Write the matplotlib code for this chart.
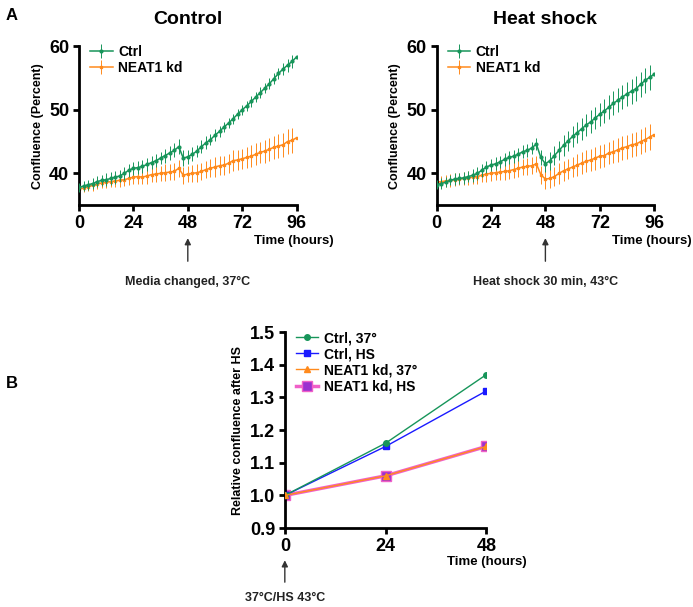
import numpy as np
import matplotlib
matplotlib.use("Agg")
import matplotlib.pyplot as plt

plt.rcParams['font.family'] = ['Liberation Sans', 'DejaVu Sans']
plt.rcParams['font.weight'] = 'bold'

# Zeitpunkte (Stunden) fuer Panel A
time_a = list(range(0, 97, 2))

# Panel A, Kontrolle
ctrl_ctrl = [37.8, 38.0, 38.2, 38.4, 38.7, 38.9, 39.0, 39.2, 39.4, 39.6, 40.0, 40.5, 40.8,
             40.9, 41.1, 41.4, 41.7, 42.0, 42.4, 42.8, 43.2, 43.6, 44.2, 42.4, 42.6, 43.0,
             43.5, 44.2, 44.8, 45.3, 46.0, 46.6, 47.3, 47.9, 48.6, 49.3, 50.0, 50.6, 51.3,
             52.0, 52.7, 53.4, 54.1, 54.9, 55.7, 56.4, 57.0, 57.6, 58.3]
ctrl_ctrl_err = [0.7, 0.8, 0.8, 0.9, 0.9, 0.9, 1.0, 1.0, 1.0, 1.0, 1.0, 1.0, 1.0,
                 1.0, 1.0, 1.0, 1.0, 1.0, 1.0, 1.1, 1.1, 1.1, 1.2, 1.2, 1.1, 1.1,
                 1.0, 1.0, 1.0, 0.9, 0.9, 0.9, 0.8, 0.8, 0.8, 0.8, 0.8, 0.8, 0.8,
                 0.8, 0.8, 0.8, 0.9, 0.9, 0.9, 1.0, 1.0, 1.0, 1.0]
ctrl_kd = [37.5, 37.7, 37.9, 38.1, 38.3, 38.5, 38.6, 38.7, 38.8, 38.9, 39.0, 39.2, 39.4,
           39.5, 39.4, 39.6, 39.8, 39.9, 40.0, 40.1, 40.2, 40.3, 40.8, 39.7, 39.9, 40.0,
           40.1, 40.3, 40.6, 40.8, 41.0, 41.2, 41.3, 41.6, 42.0, 42.1, 42.3, 42.5, 42.7,
           43.0, 43.3, 43.5, 43.8, 44.1, 44.3, 44.5, 45.0, 45.2, 45.6]
ctrl_kd_err = [0.6, 0.7, 0.7, 0.8, 0.8, 0.8, 0.9, 0.9, 0.9, 1.0, 1.0, 1.0, 1.1,
               1.1, 1.1, 1.2, 1.2, 1.2, 1.2, 1.3, 1.3, 1.3, 1.3, 1.3, 1.3, 1.3,
               1.4, 1.4, 1.4, 1.4, 1.5, 1.5, 1.5, 1.5, 1.6, 1.6, 1.6, 1.6, 1.7,
               1.7, 1.7, 1.8, 1.8, 1.8, 1.9, 1.9, 1.9, 2.0, 2.0]

# Panel A, Hitzeschock
hs_ctrl = [38.2, 38.4, 38.6, 38.9, 39.1, 39.2, 39.3, 39.5, 39.7, 40.0, 40.5, 41.0, 41.3,
           41.5, 41.8, 42.2, 42.5, 42.7, 43.0, 43.4, 43.6, 44.0, 44.6, 42.5, 41.5, 42.0,
           42.8, 43.6, 44.4, 45.1, 45.8, 46.4, 47.0, 47.6, 48.1, 48.7, 49.3, 49.8, 50.4,
           51.0, 51.5, 52.0, 52.5, 52.9, 53.3, 54.0, 54.6, 55.1, 55.6]
hs_ctrl_err = [0.7, 0.8, 0.8, 0.8, 0.9, 0.9, 0.9, 0.9, 1.0, 1.0, 1.0, 1.0, 1.0,
               1.0, 1.0, 1.0, 1.0, 1.0, 1.0, 1.0, 1.0, 1.0, 1.0, 1.2, 1.3, 1.4,
               1.5, 1.5, 1.6, 1.6, 1.7, 1.7, 1.7, 1.8, 1.8, 1.8, 1.8, 1.9, 1.9,
               1.9, 1.9, 1.9, 1.9, 2.0, 2.0, 2.0, 2.0, 2.0, 2.0]
hs_kd = [38.6, 38.7, 38.8, 38.9, 39.0, 39.1, 39.2, 39.3, 39.4, 39.5, 39.7, 39.9, 40.0,
         40.1, 40.2, 40.3, 40.4, 40.6, 40.8, 41.0, 41.1, 41.2, 41.5, 39.8, 39.1, 39.2,
         39.5, 40.0, 40.4, 40.7, 41.0, 41.3, 41.6, 41.9, 42.1, 42.4, 42.7, 42.8, 43.2,
         43.4, 43.7, 44.0, 44.2, 44.5, 44.6, 45.0, 45.3, 45.7, 46.1]
hs_kd_err = [0.8, 0.9, 0.9, 1.0, 1.0, 1.0, 1.0, 1.1, 1.1, 1.1, 1.1, 1.2, 1.2,
             1.2, 1.2, 1.3, 1.3, 1.3, 1.3, 1.3, 1.3, 1.3, 1.3, 1.4, 1.5, 1.5,
             1.5, 1.6, 1.6, 1.6, 1.6, 1.7, 1.7, 1.7, 1.7, 1.8, 1.8, 1.8, 1.8,
             1.8, 1.9, 1.9, 1.9, 1.9, 1.9, 2.0, 2.0, 2.0, 2.0]

# Panel B
time_b = [0, 24, 48]
rel_ctrl_37 = [1.0, 1.16, 1.37]
rel_ctrl_hs = [1.0, 1.15, 1.32]
rel_kd_37 = [1.0, 1.06, 1.15]
rel_kd_hs = [1.0, 1.06, 1.15]

GREEN = "#17955a"
ORANGE = "#ff8a1c"
BLUE = "#1a1aff"
PURPLE = "#9b30d0"
PINK = "#f060c8"


def style_axes(ax):
    for s in ["top", "right"]:
        ax.spines[s].set_visible(False)
    for s in ["left", "bottom"]:
        ax.spines[s].set_linewidth(2)
    ax.tick_params(width=2, length=4, labelsize=13, pad=3)
    for lab in ax.get_xticklabels() + ax.get_yticklabels():
        lab.set_fontweight("bold")


fig = plt.figure(figsize=(6.93, 6.07), dpi=100)

panels = [
    (0.114, "Control", ctrl_ctrl, ctrl_ctrl_err, ctrl_kd, ctrl_kd_err, "Media changed, 37°C"),
    (0.630, "Heat shock", hs_ctrl, hs_ctrl_err, hs_kd, hs_kd_err, "Heat shock 30 min, 43°C"),
]
for left, title, g, ge, o, oe, note in panels:
    ax = fig.add_axes([left, 0.662, 0.314, 0.262])
    ax.errorbar(time_a, g, yerr=ge, color=GREEN, marker="o", ms=2, lw=1.1,
                elinewidth=0.7, capsize=0, label="Ctrl", zorder=3)
    ax.errorbar(time_a, o, yerr=oe, color=ORANGE, marker="s", ms=2, lw=1.1,
                elinewidth=0.7, capsize=0, label="NEAT1 kd", zorder=2)
    ax.set_xlim(0, 96)
    ax.set_ylim(35, 60)
    ax.set_xticks([0, 24, 48, 72, 96])
    ax.set_yticks([40, 50, 60])
    ax.set_ylabel("Confluence (Percent)", fontsize=9, fontweight="bold")
    style_axes(ax)
    leg = ax.legend(loc="upper left", frameon=False, fontsize=10, handlelength=1.6,
                    borderaxespad=0.1, labelspacing=0.15, handletextpad=0.4,
                    bbox_to_anchor=(0.02, 1.05))
    for t in leg.get_texts():
        t.set_fontweight("bold")
    ax.set_title(title, fontsize=14, fontweight="bold", pad=16)
    ax.text(1.17, -0.19, "Time (hours)", transform=ax.transAxes, ha="right",
            va="top", fontsize=9.5, fontweight="bold")
    ax.annotate("", xy=(48, -0.19), xytext=(48, -0.37),
                xycoords=("data", "axes fraction"), textcoords=("data", "axes fraction"),
                arrowprops=dict(arrowstyle="-|>", color="#333333", lw=1, mutation_scale=9))
    ax.text(48, -0.48, note, transform=ax.get_xaxis_transform(), ha="center",
            va="center", fontsize=9, fontweight="bold", color="#222222")

axb = fig.add_axes([0.411, 0.130, 0.291, 0.323])
axb.plot(time_b, rel_ctrl_37, color=GREEN, marker="o", ms=4, lw=1, label="Ctrl, 37°", zorder=4)
axb.plot(time_b, rel_ctrl_hs, color=BLUE, marker="s", ms=5, lw=1, label="Ctrl, HS", zorder=3)
axb.plot(time_b, rel_kd_37, color=ORANGE, marker="^", ms=5, lw=1, label="NEAT1 kd, 37°", zorder=5)
axb.plot(time_b, rel_kd_hs, color=PINK, marker="s", ms=7, mfc=PURPLE, mec=PINK, mew=1,
         lw=2.5, label="NEAT1 kd, HS", zorder=2)
axb.set_xlim(0, 48)
axb.set_ylim(0.9, 1.5)
axb.set_xticks(time_b)
axb.set_yticks([0.9, 1.0, 1.1, 1.2, 1.3, 1.4, 1.5])
axb.set_ylabel("Relative confluence after HS", fontsize=9, fontweight="bold")
style_axes(axb)
legb = axb.legend(loc="upper left", frameon=False, fontsize=10, handlelength=1.6,
                  borderaxespad=0.1, labelspacing=0.15, handletextpad=0.4,
                  bbox_to_anchor=(0.02, 1.04))
for t in legb.get_texts():
    t.set_fontweight("bold")
axb.text(1.2, -0.14, "Time (hours)", transform=axb.transAxes, ha="right",
         va="top", fontsize=9.5, fontweight="bold")
axb.annotate("", xy=(0, -0.15), xytext=(0, -0.29),
             xycoords=("data", "axes fraction"), textcoords=("data", "axes fraction"),
             arrowprops=dict(arrowstyle="-|>", color="#333333", lw=1, mutation_scale=9))
axb.text(0, -0.357, "37°C/HS 43°C", transform=axb.get_xaxis_transform(), ha="center",
         va="center", fontsize=9, fontweight="bold", color="#222222")

fig.text(0.008, 0.975, "A", fontsize=12, fontweight="bold", va="center")
fig.text(0.008, 0.368, "B", fontsize=12, fontweight="bold", va="center")

fig.savefig("out.png", dpi=100)
